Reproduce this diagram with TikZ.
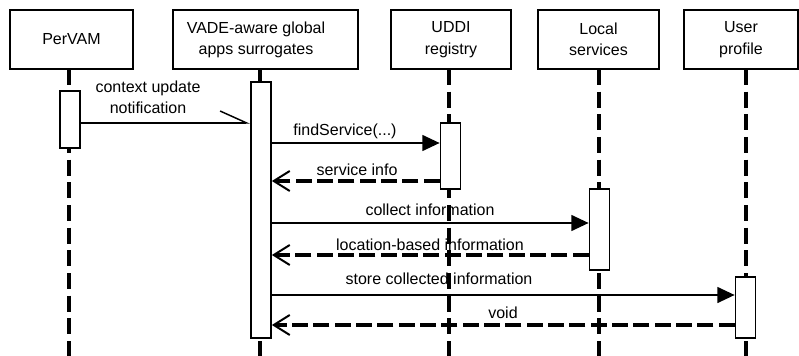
\documentclass[tikz,border=0pt]{standalone}
\usepackage{fontspec}
\setmainfont{Liberation Sans}
\usetikzlibrary{arrows.meta}
\tikzset{
  head/.style={draw,line width=1.3pt,fill=white,inner sep=0pt,minimum height=44.25pt,align=center},
  act/.style={draw,line width=1.3pt,fill=white,inner sep=0pt,minimum width=15pt},
  life/.style={line width=2.6pt,dash pattern=on 12pt off 5pt},
  call/.style={line width=1.1pt,-{Triangle[length=13pt,width=12pt]}},
  reply/.style={line width=2.4pt,dash pattern=on 12pt off 4pt,-{Straight Barb[length=12pt,width=15pt,line width=1.5pt]}},
  signal/.style={line width=1.1pt,-{Straight Barb[left,length=20pt,width=18pt]}},
  lbl/.style={inner sep=0pt,align=center}
}
\begin{document}
\begin{tikzpicture}[x=0.75pt,y=-0.75pt,font=\fontsize{12}{16}\selectfont]
\useasboundingbox (0,0) rectangle (799,356);
% lifelines
\coordinate (topP) at (69,69);   \coordinate (botP) at (69,356);
\coordinate (topV) at (260,69);  \coordinate (botV) at (260,356);
\coordinate (topU) at (449,69);  \coordinate (botU) at (449,356);
\coordinate (topL) at (599,69);  \coordinate (botL) at (599,356);
\coordinate (topR) at (746,69);  \coordinate (botR) at (746,356);
\draw[life] (topP) -- (botP);
\draw[life] (topV) -- (botV);
\draw[life] (topU) -- (botU);
\draw[life] (topL) -- (botL);
\draw[life] (topR) -- (botR);
% heads
\node[head,minimum width=92.25pt] (pervam) at (71.5,39.5) {PerVAM};
\node[head,minimum width=138.75pt] (vade) at (265.5,39.5) {};
\node[lbl] (vadetxt) at (256,40) {VADE-aware global\\apps surrogates};
\node[head,minimum width=90pt] (uddi) at (451,39.5) {UDDI\\registry};
\node[head,minimum width=90.75pt] (local) at (598.5,39.5) {Local\\services};
\node[head,minimum width=85.5pt] (user) at (741,39.5) {User\\profile};
% activations
\node[act,minimum height=42.75pt] (actP) at (70,119.5) {};
\node[act,minimum height=192pt] (actV) at (261,210) {};
\node[act,minimum height=49.5pt] (actU) at (450.5,156) {};
\node[act,minimum height=60.75pt] (actL) at (599.5,229.5) {};
\node[act,minimum height=45.75pt] (actR) at (745.5,307.5) {};
% messages
\draw[signal] (actP.east |- 0,123) -- (actV.west |- 0,123);
\draw[call] (actV.east |- 0,143) -- (actU.west |- 0,143);
\draw[reply] (actU.west |- 0,181) -- (actV.east |- 0,181);
\draw[call] (actV.east |- 0,223) -- (actL.west |- 0,223);
\draw[reply] (actL.west |- 0,255) -- (actV.east |- 0,255);
\draw[call] (actV.east |- 0,295) -- (actR.west |- 0,295);
\draw[reply] (actR.west |- 0,325) -- (actV.east |- 0,325);
% labels
\node[lbl] (m1) at (148,97) {context update\\notification};
\node[lbl] (m2) at (345,131) {findService(...)};
\node[lbl] (m3) at (357,170) {service info};
\node[lbl] (m4) at (430,210) {collect information};
\node[lbl] (m5) at (430,245) {location-based information};
\node[lbl] (m6) at (439,279) {store collected information};
\node[lbl] (m7) at (503,313) {void};
\end{tikzpicture}
\end{document}
